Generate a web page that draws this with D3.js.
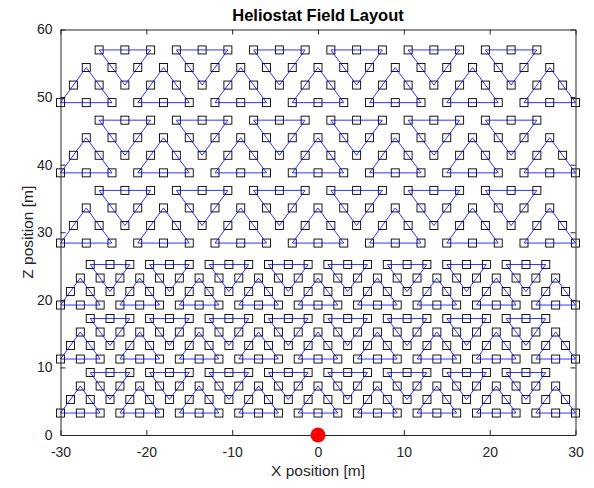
<!DOCTYPE html>
<html>
<head>
<meta charset="utf-8">
<script src="https://cdn.jsdelivr.net/npm/d3@7"></script>
<style>
  body { margin: 0; background: #fff; }
  text { font-family: "Liberation Sans", Arial, sans-serif; }
</style>
</head>
<body>
<div id="chart"></div>
<script>
var w = 594;
var h = 488;

// triangle side lengths [m]
var smallSide = 4.615;
var largeSide = 6;

// z of the base of each band of triangles
var smallBandZ = [3.25, 11.24, 19.23];
var largeBandZ = [28.4, 38.79, 49.18];

// x centres of the upward and downward triangles in a band
var smallUpX = [-27.69, -20.77, -13.85, -6.92, 0, 6.92, 13.85, 20.77, 27.69];
var smallDownX = [-24.23, -17.31, -10.38, -3.46, 3.46, 10.38, 17.31, 24.23];
var largeUpX = [-27, -18, -9, 0, 9, 18, 27];
var largeDownX = [-22.5, -13.5, -4.5, 4.5, 13.5, 22.5];

var receiver = [{x: 0, z: 0}];

var xTicks = [-30, -20, -10, 0, 10, 20, 30];
var zTicks = [0, 10, 20, 30, 40, 50, 60];

var margin = {left: 60.5, right: 18.5, top: 29.5, bottom: 53};

// build triangles (corners) for every band
var triangles = [];
function addBand(z0, s, upX, downX) {
    var th = s * Math.sqrt(3) / 2;
    upX.forEach(function(cx) {
        triangles.push([[cx - s / 2, z0], [cx, z0 + th], [cx + s / 2, z0]]);
    });
    downX.forEach(function(cx) {
        triangles.push([[cx - s / 2, z0 + 1.5 * th], [cx + s / 2, z0 + 1.5 * th], [cx, z0 + 0.5 * th]]);
    });
}
smallBandZ.forEach(function(z) { addBand(z, smallSide, smallUpX, smallDownX); });
largeBandZ.forEach(function(z) { addBand(z, largeSide, largeUpX, largeDownX); });

// heliostats sit on the corners and the middle of every side
var heliostats = [];
triangles.forEach(function(t) {
    for (var i = 0; i < 3; i++) {
        var a = t[i], b = t[(i + 1) % 3];
        heliostats.push(a);
        heliostats.push([(a[0] + b[0]) / 2, (a[1] + b[1]) / 2]);
    }
});

var x = d3.scaleLinear().domain([-30, 30]).range([margin.left, w - margin.right]);
var y = d3.scaleLinear().domain([0, 60]).range([h - margin.bottom, margin.top]);

var svg = d3.select("#chart")
    .append("svg")
    .attr("width", w)
    .attr("height", h);

// heliostat markers
var sq = 8;
svg.append("g")
    .selectAll("rect")
    .data(heliostats)
    .enter()
    .append("rect")
    .attr("x", function(d) { return x(d[0]) - sq / 2; })
    .attr("y", function(d) { return y(d[1]) - sq / 2; })
    .attr("width", sq)
    .attr("height", sq)
    .attr("fill", "none")
    .attr("stroke", "#000")
    .attr("stroke-width", 0.9);

// triangle outlines
var line = d3.line()
    .x(function(d) { return x(d[0]); })
    .y(function(d) { return y(d[1]); })
    .curve(d3.curveLinearClosed);

svg.append("g")
    .selectAll("path")
    .data(triangles)
    .enter()
    .append("path")
    .attr("d", line)
    .attr("fill", "none")
    .attr("stroke", "#0000ff")
    .attr("stroke-opacity", 0.8)
    .attr("stroke-width", 1);

// axes
var axisColor = "#262626";
var plain = function(d) { return String(d); };
function styleAxis(g) {
    g.selectAll("path, line").attr("stroke", axisColor);
    g.selectAll("text").attr("fill", axisColor).style("font-size", "14px");
}

svg.append("g")
    .attr("transform", "translate(0," + y(0) + ")")
    .call(d3.axisBottom(x).tickValues(xTicks).tickFormat(plain).tickSizeInner(-5).tickSizeOuter(0).tickPadding(12))
    .call(styleAxis);

svg.append("g")
    .attr("transform", "translate(0," + y(60) + ")")
    .call(d3.axisTop(x).tickValues(xTicks).tickSizeInner(-5).tickSizeOuter(0).tickFormat(""))
    .call(styleAxis);

svg.append("g")
    .attr("transform", "translate(" + x(-30) + ",0)")
    .call(d3.axisLeft(y).tickValues(zTicks).tickFormat(plain).tickSizeInner(-5).tickSizeOuter(0).tickPadding(8))
    .call(styleAxis);

svg.append("g")
    .attr("transform", "translate(" + x(30) + ",0)")
    .call(d3.axisRight(y).tickValues(zTicks).tickSizeInner(-5).tickSizeOuter(0).tickFormat(""))
    .call(styleAxis);

// receiver
svg.selectAll("circle")
    .data(receiver)
    .enter()
    .append("circle")
    .attr("cx", function(d) { return x(d.x); })
    .attr("cy", function(d) { return y(d.z); })
    .attr("r", 7.5)
    .attr("fill", "#ff0000");

// labels
svg.append("text")
    .text("Heliostat Field Layout")
    .attr("x", (x(-30) + x(30)) / 2)
    .attr("y", 21)
    .attr("text-anchor", "middle")
    .attr("font-weight", "bold")
    .style("font-size", "16.5px")
    .attr("fill", "#000");

svg.append("text")
    .text("X position [m]")
    .attr("x", (x(-30) + x(30)) / 2)
    .attr("y", 476)
    .attr("text-anchor", "middle")
    .style("font-size", "15.5px")
    .attr("fill", axisColor);

svg.append("text")
    .text("Z position [m]")
    .attr("transform", "translate(33," + (y(0) + y(60)) / 2 + ") rotate(-90)")
    .attr("text-anchor", "middle")
    .style("font-size", "15.5px")
    .attr("fill", axisColor);
</script>
</body>
</html>
